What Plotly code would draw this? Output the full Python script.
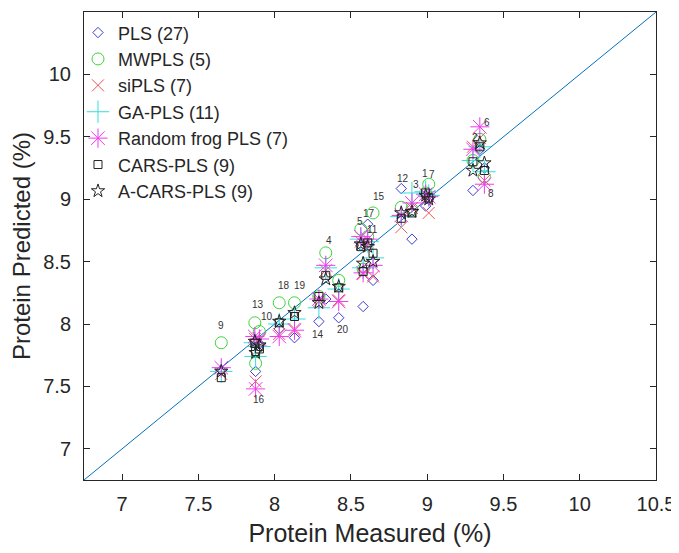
import plotly.graph_objects as go

# ---------------- data ----------------
sample_ids = [str(i) for i in range(1, 21)]
measured = [8.99, 9.30, 8.90, 8.335, 8.565, 9.345, 9.01, 9.375, 7.65, 7.90,
            8.58, 8.83, 7.87, 8.29, 8.645, 7.875, 8.61, 8.03, 8.13, 8.42]

pred_pls = [8.945, 9.07, 8.68, 8.20, 8.63, 9.40, 9.00, 9.25, 7.63, 7.84,
            8.14, 9.085, 7.86, 8.02, 8.35, 7.62, 8.80, 7.96, 7.89, 8.05]
pred_mwpls = [9.05, 9.31, 8.92, 8.57, 8.76, 9.48, 9.12, 9.18, 7.85, 7.94,
              8.44, 8.935, 8.01, 8.22, 8.89, 7.685, 8.70, 8.17, 8.17, 8.35]
pred_sipls = [9.00, 9.42, 8.93, 8.43, 8.66, 9.49, 8.89, 9.15, 7.60, 7.87,
              8.40, 8.775, 7.88, 8.18, 8.38, 7.54, 8.64, 7.92, 7.96, 8.19]
pred_gapls = [9.06, 9.31, 9.05, 8.45, 8.68, 9.42, 9.03, 9.22, 7.62, 7.82,
              8.45, 8.86, 7.85, 8.13, 8.53, 7.74, 8.66, 8.00, 8.04, 8.28]
pred_rfpls = [9.04, 9.40, 8.97, 8.47, 8.70, 9.58, 9.02, 9.12, 7.65, 7.88,
              8.41, 8.87, 7.90, 8.20, 8.47, 7.48, 8.68, 7.90, 7.95, 8.18]
pred_cars = [9.05, 9.30, 8.89, 8.39, 8.62, 9.42, 9.01, 9.23, 7.57, 7.80,
             8.42, 8.847, 7.845, 8.22, 8.567, 7.78, 8.65, 8.01, 8.06, 8.29]
pred_acars = [9.03, 9.23, 8.90, 8.36, 8.64, 9.45, 9.00, 9.29, 7.62, 7.83,
              8.486, 8.89, 7.86, 8.17, 8.50, 7.77, 8.62, 8.02, 8.09, 8.30]

series_names = ["PLS (27)", "MWPLS (5)", "siPLS (7)", "GA-PLS (11)",
                "Random frog PLS (7)", "CARS-PLS (9)", "A-CARS-PLS (9)"]
series_values = [pred_pls, pred_mwpls, pred_sipls, pred_gapls,
                 pred_rfpls, pred_cars, pred_acars]

tick_vals = [7, 7.5, 8, 8.5, 9, 9.5, 10, 10.5]
tick_text = ["7", "7.5", "8", "8.5", "9", "9.5", "10", "10.5"]
axis_min, axis_max = 6.75, 10.5
x_title = "Protein Measured (%)"
y_title = "Protein Predicted (%)"

# ---------------- styles ----------------
styles = [
    dict(symbol="diamond-open", size=8, color="#3b3bd6", line=dict(width=1, color="#3b3bd6")),
    dict(symbol="circle-open", size=12, color="#3ed43e", line=dict(width=1, color="#3ed43e")),
    dict(symbol="x-thin-open", size=12, color="#ee5555", line=dict(width=1, color="#ee5555")),
    dict(symbol="cross-thin-open", size=16, color="#33dede", line=dict(width=1, color="#33dede")),
    dict(symbol="asterisk-open", size=16, color="#f03af0", line=dict(width=1, color="#f03af0")),
    dict(symbol="square-open", size=8, color="#222222", line=dict(width=1, color="#222222")),
    dict(symbol="star-open", size=10, color="#222222", line=dict(width=1, color="#222222")),
]

# label placement: anchor at top ("t") or bottom ("b") of each sample column,
# plus pixel shifts
label_side = ["t", "t", "t", "t", "t", "t", "t", "b", "t", "t",
              "t", "t", "t", "b", "t", "b", "t", "t", "t", "b"]
label_shift = [(-1, 18), (2, 9), (4, 8), (3, 12), (-1, 8), (7, 4), (3, 10), (7, -9),
               (0, 17), (8, 15), (9, 34), (2, 10), (3, 18), (-1, -13), (6, 16),
               (3, -11), (1, 11), (5, 17), (5, 17), (4, -12)]

fig = go.Figure()

fig.add_trace(go.Scatter(x=[axis_min, axis_max], y=[axis_min, axis_max], mode="lines",
                         line=dict(color="#0072BD", width=1), showlegend=False,
                         hoverinfo="skip"))

for name, vals, st in zip(series_names, series_values, styles):
    fig.add_trace(go.Scatter(x=measured, y=vals, mode="markers", name=name,
                             marker=st))

FONT = "Liberation Sans, Arial, sans-serif"

annotations = []
for i, sid in enumerate(sample_ids):
    col = [s[i] for s in series_values]
    yv = max(col) if label_side[i] == "t" else min(col)
    dx, dy = label_shift[i]
    annotations.append(dict(x=measured[i], y=yv, text=sid, showarrow=False,
                            xshift=dx, yshift=dy,
                            font=dict(size=10, color="#333333", family=FONT)))

# y-axis title placed as rotated text left of the tick labels
annotations.append(dict(xref="paper", yref="paper", x=-0.110, y=0.5,
                        xanchor="center", yanchor="middle", textangle=-90,
                        text=y_title, showarrow=False,
                        font=dict(size=24, color="#262626", family=FONT)))

axis_common = dict(range=[axis_min, axis_max], tickvals=tick_vals, ticktext=tick_text,
                   ticks="inside", ticklen=6, tickcolor="#262626", showline=True,
                   linecolor="#262626", linewidth=1, mirror="ticks", showgrid=False,
                   zeroline=False, automargin=False,
                   tickfont=dict(size=20, color="#262626", family=FONT))

fig.update_layout(
    width=679, height=553,
    margin=dict(l=76, r=31, t=4, b=81, autoexpand=False),
    paper_bgcolor="white", plot_bgcolor="white",
    xaxis=dict(axis_common, ticklabelstandoff=6,
               title=dict(text=x_title, standoff=10,
                          font=dict(size=25, color="#262626", family=FONT))),
    yaxis=dict(axis_common, ticklabelstandoff=8),
    legend=dict(x=-0.0105, y=0.995, xanchor="left", yanchor="top",
                bgcolor="rgba(0,0,0,0)", borderwidth=0,
                font=dict(size=18, color="#262626", family=FONT),
                itemsizing="trace", tracegroupgap=0),
    annotations=annotations,
    showlegend=True,
)

fig.write_html("out.html")
